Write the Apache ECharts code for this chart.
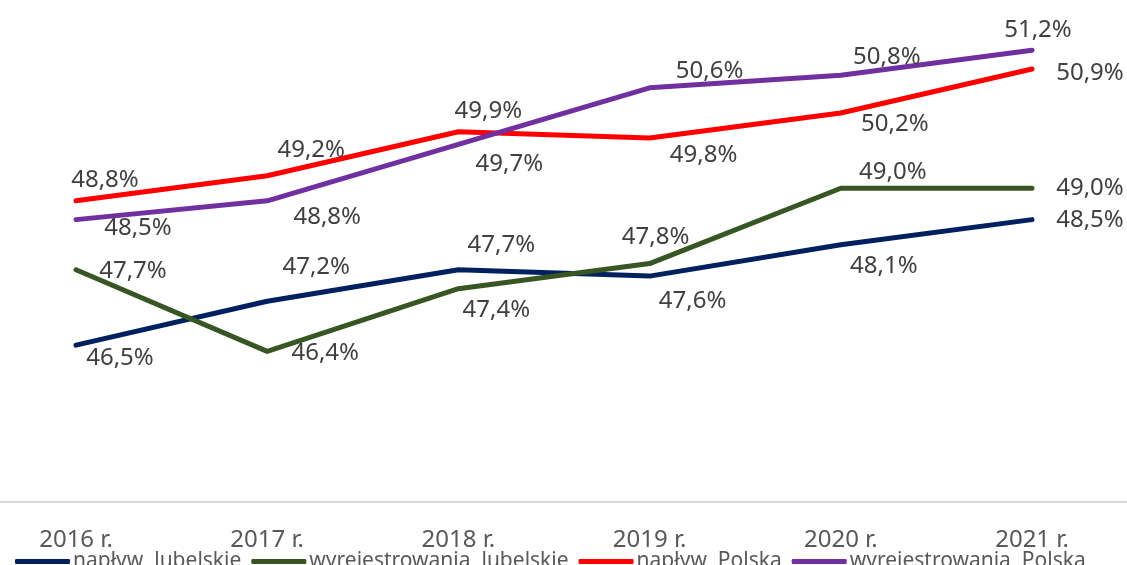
<!DOCTYPE html>
<html>
<head>
<meta charset="utf-8">
<script src="https://cdn.jsdelivr.net/npm/echarts@6/dist/echarts.min.js"></script>
<style>
  html, body { margin: 0; padding: 0; background: #fff; }
  #main { width: 1127px; height: 565px; }
</style>
</head>
<body>
<div id="main"></div>
<script>
// dane
var years = ['2016 r.', '2017 r.', '2018 r.', '2019 r.', '2020 r.', '2021 r.'];
var naplywLubelskie = [46.5, 47.2, 47.7, 47.6, 48.1, 48.5];
var wyrejLubelskie = [47.7, 46.4, 47.4, 47.8, 49.0, 49.0];
var naplywPolska = [48.8, 49.2, 49.9, 49.8, 50.2, 50.9];
var wyrejPolska = [48.5, 48.8, 49.7, 50.6, 50.8, 51.2];

// położenie etykiet względem punktów (px)
var offNL = [[44, 13], [49, -34], [43, -25], [43, 25], [43, 21], [58, 1]];
var offWL = [[57, 1], [58, 2], [38, 22], [6, -26], [52, -16], [58, 0]];
var offNP = [[29, -21], [44, -26], [30, -21], [54, 17], [54, 11], [58, 4]];
var offWP = [[62, 9], [60, 16], [51, 20], [60, -17], [46, -18], [6, -20]];

var chart = echarts.init(document.getElementById('main'));

function fmt(v) {
  return v.toFixed(1).replace('.', ',') + '%';
}

function makeSeries(name, values, offsets, color) {
  return {
    name: name,
    type: 'line',
    xAxisIndex: 0,
    yAxisIndex: 0,
    data: values.map(function (v, i) {
      return { value: v, label: { offset: offsets[i] } };
    }),
    showSymbol: true,
    symbol: 'circle',
    symbolSize: 1,
    itemStyle: { color: color },
    lineStyle: { color: color, width: 5, cap: 'round' },
    label: {
      show: true,
      position: 'inside',
      align: 'center',
      verticalAlign: 'middle',
      color: '#404040',
      fontSize: 24,
      fontFamily: 'Noto Sans',
      formatter: function (p) { return fmt(p.value); }
    },
    emphasis: { disabled: true },
    animation: false
  };
}

var option = {
  backgroundColor: '#fff',
  animation: false,
  grid: [
    { left: 76, right: 95, top: 0, bottom: 63 },
    { left: 0, right: 0, top: 0, bottom: 63 }   // tylko linia osi na całą szerokość
  ],
  legend: {
    left: 10,
    top: 546,
    itemWidth: 55,
    itemHeight: 5,
    itemGap: 10,
    icon: 'roundRect',
    textStyle: { color: '#595959', fontSize: 21, fontFamily: 'Noto Sans', padding: [0, 0, 0, -2] },
    data: ['napływ  lubelskie', 'wyrejestrowania  lubelskie', 'napływ  Polska', 'wyrejestrowania  Polska']
  },
  xAxis: [
    {
      type: 'category',
      gridIndex: 0,
      data: years,
      boundaryGap: false,
      axisLine: { show: false },
      axisTick: { show: false },
      axisLabel: { color: '#595959', fontSize: 24, fontFamily: 'Noto Sans', margin: 26 }
    },
    {
      type: 'category',
      gridIndex: 1,
      data: [''],
      axisLine: { lineStyle: { color: '#d9d9d9', width: 2 } },
      axisTick: { show: false },
      axisLabel: { show: false }
    }
  ],
  yAxis: [
    { type: 'value', gridIndex: 0, min: 44, max: 52, show: false, splitLine: { show: false } },
    { type: 'value', gridIndex: 1, min: 44, max: 52, show: false, splitLine: { show: false } }
  ],
  series: [
    makeSeries('napływ  lubelskie', naplywLubelskie, offNL, '#002060'),
    makeSeries('wyrejestrowania  lubelskie', wyrejLubelskie, offWL, '#375623'),
    makeSeries('napływ  Polska', naplywPolska, offNP, '#ff0000'),
    makeSeries('wyrejestrowania  Polska', wyrejPolska, offWP, '#7030a0')
  ]
};

chart.setOption(option);
</script>
</body>
</html>
